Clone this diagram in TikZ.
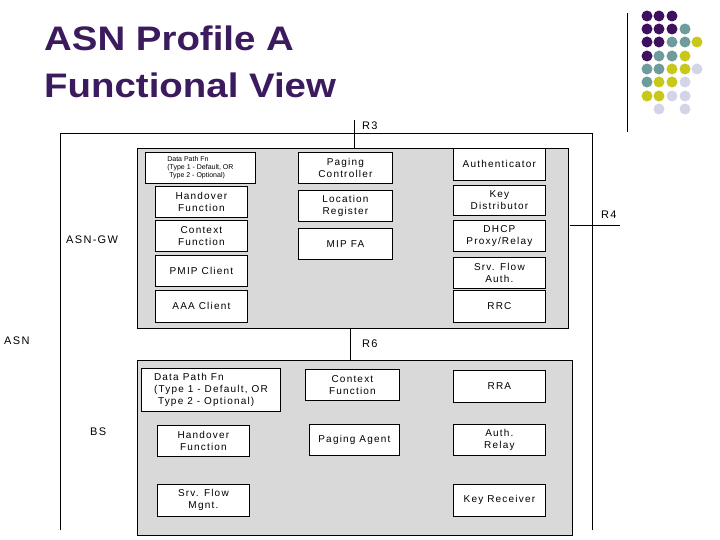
\documentclass[tikz,border=0pt]{standalone}
\usepackage{fontspec}
\setmainfont{Liberation Sans}
\newfontfamily\wide{Liberation Sans}[LetterSpace=12]
\newfontfamily\ttlfont{Liberation Sans}[FakeStretch=1.13]
\begin{document}
\begin{tikzpicture}[x=1pt,y=-1pt,
  fb/.style={draw=black,fill=white,line width=0.8pt,align=center,inner sep=0pt,font=\wide\fontsize{10}{12}\selectfont},
  panel/.style={draw=black,fill=black!15,line width=0.8pt},
  lbl/.style={font=\wide\fontsize{11}{12}\selectfont,anchor=west,inner sep=0pt},
  dot/.style={circle,inner sep=0pt,minimum size=11pt}]
\useasboundingbox (0,0) rectangle (720,540);
\definecolor{ttl}{HTML}{3B1A5E}
\definecolor{dP}{HTML}{3E1060}
\definecolor{dT}{HTML}{6E9C9C}
\definecolor{dY}{HTML}{C8C81A}
\definecolor{dL}{HTML}{D4D4E8}
\node[anchor=west,text=ttl,font=\ttlfont\bfseries\fontsize{34}{47}\selectfont,align=left,inner sep=0pt] (title) at (44,62) {ASN Profile A\\Functional View};
\coordinate (vl1) at (627,13); \coordinate (vl2) at (627,132);
\draw[line width=0.8pt] (vl1) -- (vl2);
% outer ASN
\draw[line width=0.8pt] (60,530) -- (60,133) -- (592,133) -- (592,530);
\coordinate (r4a) at (570,225); \coordinate (r4b) at (620,225);
\draw[line width=0.8pt] (r4a) -- (r4b);
\node[lbl] (R4) at (601,215) {R4};
\node[panel,minimum width=431pt,minimum height=180pt,anchor=north west] (gw) at (137,148) {};
\node[panel,minimum width=435pt,minimum height=175pt,anchor=north west] (bs) at (137,360) {};
\coordinate (r3t) at (354,120);
\draw[line width=0.8pt] (r3t) -- (354,148);
\node[lbl] (R3) at (362,126) {R3};
\draw[line width=0.8pt] (350,328) -- (350,360);
\node[lbl] (R6) at (362,344) {R6};
\node[lbl] (asn) at (4,341) {ASN};
\node[lbl] (asngw) at (66,240) {ASN-GW};
\node[lbl] (bsl) at (90,432) {BS};
\newcommand{\bx}[6]{\node[fb,minimum width=#4-#2,minimum height=#5-#3,anchor=north west] (#1) at (#2,#3) {#6};}
\node[fb,minimum width=110pt,minimum height=31pt,anchor=north west,align=left,inner xsep=6pt,font=\fontsize{7}{8}\selectfont] (dp1) at (145,152) {Data Path Fn\\(Type 1 - Default, OR\\\ Type 2 - Optional)};
\bx{ho1}{155}{186}{247}{217}{Handover\\Function}
\bx{cf1}{155}{220}{247}{251}{Context\\Function}
\bx{pm}{155}{255}{247}{286}{PMIP Client}
\bx{aaa}{155}{290}{247}{322}{AAA Client}
\bx{pc}{298}{152}{392}{183}{Paging\\Controller}
\bx{lr}{298}{190}{392}{221}{Location\\Register}
\bx{mip}{298}{228}{392}{259}{MIP FA}
\bx{au}{453}{148}{545}{180}{Authenticator}
\bx{kd}{453}{185}{545}{215}{Key\\Distributor}
\bx{dh}{453}{220}{545}{251}{DHCP\\Proxy/Relay}
\bx{sfa}{453}{257}{545}{288}{Srv. Flow\\Auth.}
\bx{rrc}{453}{290}{545}{322}{RRC}
\node[fb,minimum width=139pt,minimum height=43pt,anchor=north west,align=left,inner xsep=6pt] (dp2) at (141,368) {Data Path Fn\\(Type 1 - Default, OR\\\ Type 2 - Optional)};
\bx{cf2}{305}{369}{399}{400}{Context\\Function}
\bx{rra}{453}{370}{545}{402}{RRA}
\bx{ho2}{157}{425}{249}{456}{Handover\\Function}
\bx{pa}{309}{424}{399}{455}{Paging Agent}
\bx{ar}{453}{424}{545}{455}{Auth.\\Relay}
\bx{sfm}{157}{484}{249}{516}{Srv. Flow\\Mgnt.}
\bx{kr}{453}{484}{545}{516}{Key Receiver}
% dots
\foreach \x/\y/\c [count=\k] in {
 647/16/dP,659/16/dP,672/16/dP,
 647/29/dP,659/29/dP,672/29/dP,685/29/dT,
 647/42/dP,659/42/dP,672/42/dT,685/42/dT,697/42/dY,
 647/56/dP,659/56/dT,672/56/dT,685/56/dY,
 647/69/dT,659/69/dT,672/69/dY,685/69/dY,697/69/dL,
 647/82/dT,659/82/dY,672/82/dY,685/82/dL,
 647/96/dY,659/96/dY,672/96/dL,685/96/dL,
 659/109/dL,685/109/dL}
 \node[dot,fill=\c] (d\k) at (\x,\y) {};
\end{tikzpicture}
\end{document}
